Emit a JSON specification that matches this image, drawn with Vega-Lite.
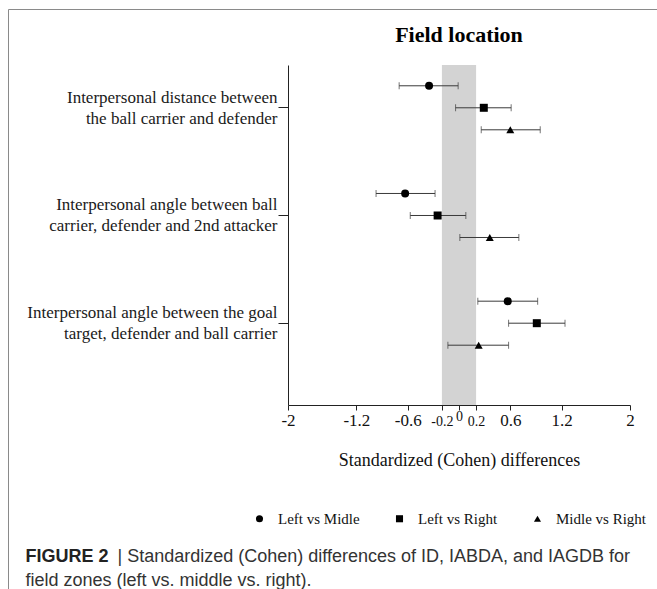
{
  "$schema": "https://vega.github.io/schema/vega-lite/v6.json",
  "width": 342,
  "height": 340,
  "autosize": "none",
  "padding": {"left": 288, "top": 65, "right": 27, "bottom": 184},
  "background": "white",
  "config": {"view": {"stroke": null}, "axis": {"grid": false}},
  "title": {
    "text": "Field location",
    "font": "Liberation Serif",
    "fontSize": 22,
    "fontWeight": "bold",
    "color": "#000000",
    "anchor": "middle",
    "frame": "group",
    "baseline": "alphabetic",
    "offset": -55
  },
  "data": {
    "values": [
      {"measure": "Interpersonal distance between\nthe ball carrier and defender", "comp": "Left vs Midle", "d": -0.35, "lo": -0.70, "hi": -0.01},
      {"measure": "Interpersonal distance between\nthe ball carrier and defender", "comp": "Left vs Right", "d": 0.29, "lo": -0.04, "hi": 0.61},
      {"measure": "Interpersonal distance between\nthe ball carrier and defender", "comp": "Midle vs Right", "d": 0.60, "lo": 0.26, "hi": 0.95},
      {"measure": "Interpersonal angle between ball\ncarrier, defender and 2nd attacker", "comp": "Left vs Midle", "d": -0.63, "lo": -0.97, "hi": -0.28},
      {"measure": "Interpersonal angle between ball\ncarrier, defender and 2nd attacker", "comp": "Left vs Right", "d": -0.25, "lo": -0.57, "hi": 0.08},
      {"measure": "Interpersonal angle between ball\ncarrier, defender and 2nd attacker", "comp": "Midle vs Right", "d": 0.36, "lo": 0.01, "hi": 0.70},
      {"measure": "Interpersonal angle between the goal\ntarget, defender and ball carrier", "comp": "Left vs Midle", "d": 0.57, "lo": 0.22, "hi": 0.92},
      {"measure": "Interpersonal angle between the goal\ntarget, defender and ball carrier", "comp": "Left vs Right", "d": 0.91, "lo": 0.58, "hi": 1.24},
      {"measure": "Interpersonal angle between the goal\ntarget, defender and ball carrier", "comp": "Midle vs Right", "d": 0.23, "lo": -0.13, "hi": 0.58}
    ]
  },
  "layer": [
    {
      "layer": [
        {
          "data": {"values": [{"from": -0.2, "to": 0.2}]},
          "mark": {"type": "rect", "color": "#d3d3d3"},
          "encoding": {
            "x": {"field": "from", "type": "quantitative", "title": "Standardized (Cohen) differences",
                  "scale": {"domain": [-2, 2], "nice": false, "zero": false}},
            "x2": {"field": "to"}
          }
        },
        {
          "mark": {"type": "rule", "color": "#3a3a3a", "strokeWidth": 1},
          "encoding": {
            "x": {"field": "lo", "type": "quantitative", "title": "Standardized (Cohen) differences"},
            "x2": {"field": "hi"},
            "y": {"field": "measure", "type": "nominal", "sort": null},
            "yOffset": {"field": "comp", "type": "nominal"}
          }
        },
        {
          "mark": {"type": "tick", "color": "#3a3a3a", "size": 7, "thickness": 1},
          "encoding": {
            "x": {"field": "lo", "type": "quantitative", "title": "Standardized (Cohen) differences"},
            "y": {"field": "measure", "type": "nominal", "sort": null},
            "yOffset": {"field": "comp", "type": "nominal"}
          }
        },
        {
          "mark": {"type": "tick", "color": "#3a3a3a", "size": 7, "thickness": 1},
          "encoding": {
            "x": {"field": "hi", "type": "quantitative", "title": "Standardized (Cohen) differences"},
            "y": {"field": "measure", "type": "nominal", "sort": null},
            "yOffset": {"field": "comp", "type": "nominal"}
          }
        },
        {
          "mark": {"type": "point", "filled": true, "color": "#000000", "opacity": 1, "size": 64},
          "encoding": {
            "x": {
              "field": "d", "type": "quantitative", "title": "Standardized (Cohen) differences",
              "axis": {
                "orient": "bottom",
                "values": [-2, -1.2, -0.6, -0.2, 0, 0.2, 0.6, 1.2, 2],
                "labelExpr": "'' + datum.value",
                "labelFont": "Liberation Serif",
                "labelFontSize": {"condition": {"test": "abs(datum.value) < 0.25", "value": 14}, "value": 17},
                "labelBaseline": "alphabetic",
                "labelPadding": {"condition": {"test": "datum.value == 0", "value": 10}, "value": 15},
                "labelColor": "#111111",
                "labelOverlap": false,
                "labelFlush": false,
                "tickSize": 5,
                "tickColor": "#222222",
                "domainColor": "#222222",
                "titleFont": "Liberation Serif",
                "titleFontSize": 18,
                "titleFontWeight": "normal",
                "titleColor": "#111111",
                "titleBaseline": "alphabetic",
                "titleY": 60
              }
            },
            "y": {
              "field": "measure", "type": "nominal", "sort": null,
              "scale": {"paddingInner": 0.387, "paddingOuter": 0.272, "align": 0.167},
              "axis": {
                "orient": "left",
                "labelExpr": "split(datum.label, '\\n')",
                "labelFont": "Liberation Serif",
                "labelFontSize": 17,
                "labelColor": "#1a1a1a",
                "labelLineHeight": 21,
                "labelLimit": 0,
                "labelPadding": 1,
                "labelOffset": -10,
                "tickSize": 10,
                "tickColor": "#222222",
                "domainColor": "#222222",
                "title": "FIGURE 2",
                "titleAngle": 0,
                "titleX": -263,
                "titleY": 496,
                "titleAlign": "left",
                "titleBaseline": "alphabetic",
                "titleFont": "Liberation Sans",
                "titleFontSize": 18,
                "titleFontWeight": "bold",
                "titleColor": "#222222"
              }
            },
            "yOffset": {"field": "comp", "type": "nominal", "scale": {"paddingInner": 0, "paddingOuter": 0}},
            "shape": {
              "field": "comp", "type": "nominal",
              "scale": {"domain": ["Left vs Midle", "Left vs Right", "Midle vs Right"], "range": ["circle", "square", "triangle-up"]},
              "legend": {
                "orient": "none",
                "legendX": -36,
                "legendY": 446,
                "direction": "horizontal",
                "title": null,
                "labelFont": "Liberation Serif",
                "labelFontSize": 15,
                "labelColor": "#111111",
                "symbolSize": 50,
                "symbolFillColor": "#000000",
                "symbolStrokeColor": "#000000",
                "symbolStrokeWidth": 0,
                "columnPadding": 32,
                "labelOffset": 11
              }
            }
          }
        }
      ]
    },
    {
      "mark": {"type": "point", "opacity": 0},
      "encoding": {
        "x": {
          "field": "d", "type": "quantitative",
          "scale": {"domain": [-2, 2], "nice": false, "zero": false},
          "axis": {
            "orient": "top", "labels": false, "ticks": false, "domain": false,
            "title": "field zones (left vs. middle vs. right).",
            "titleX": -263, "titleY": 520, "titleAlign": "left", "titleBaseline": "alphabetic",
            "titleAngle": 0,
            "titleFont": "Liberation Sans", "titleFontSize": 18, "titleFontWeight": "normal", "titleColor": "#333333"
          }
        },
        "y": {
          "field": "measure", "type": "nominal", "sort": null,
          "axis": {
            "orient": "right", "labels": false, "ticks": false, "domain": false,
            "title": "| Standardized (Cohen) differences of ID, IABDA, and IAGDB for",
            "titleX": -513, "titleY": 496, "titleAlign": "left", "titleBaseline": "alphabetic",
            "titleAngle": 0,
            "titleFont": "Liberation Sans", "titleFontSize": 18, "titleFontWeight": "normal", "titleColor": "#333333"
          }
        },
        "color": {
          "field": "d", "type": "quantitative",
          "legend": {
            "orient": "none",
            "legendX": -280,
            "legendY": -56,
            "direction": "vertical",
            "gradientLength": 700,
            "gradientThickness": 800,
            "gradientOpacity": 0,
            "gradientStrokeWidth": 0,
            "labelExpr": "''",
            "title": null,
            "strokeColor": "#8a8a8a",
            "padding": 0
          }
        }
      }
    }
  ],
  "resolve": {"scale": {"x": "independent", "y": "independent"}}
}
